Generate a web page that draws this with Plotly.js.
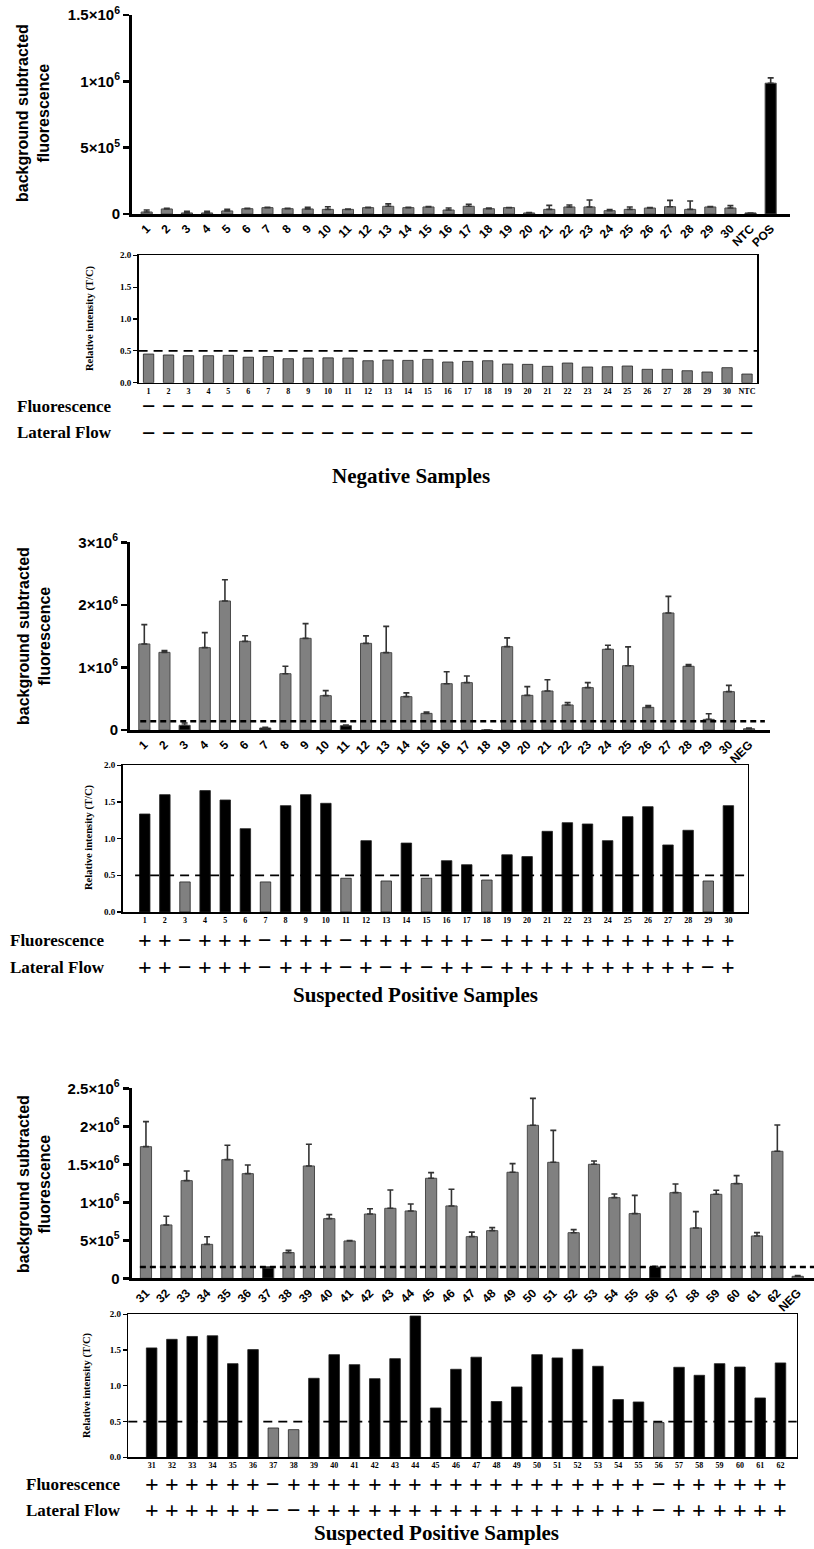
<!DOCTYPE html>
<html><head><meta charset="utf-8">
<script src="https://cdn.plot.ly/plotly-3.0.1.min.js"></script>
<style>html,body{margin:0;padding:0;background:#fff}#chart{width:814px;height:1549px}</style>
</head><body><div id="chart"></div>
<script>
// ---------------- DATA ----------------
const negLabels = ['1','2','3','4','5','6','7','8','9','10','11','12','13','14','15','16','17','18','19','20','21','22','23','24','25','26','27','28','29','30','NTC','POS'];
const negFluor = [15000,38000,8000,8000,23000,40000,48000,40000,38000,35000,35000,48000,58000,48000,53000,30000,58000,40000,48000,8000,35000,53000,53000,25000,35000,45000,55000,35000,53000,45000,8000,986000];
const negFluorErr = [15000,5000,12000,12000,12000,3000,3000,3000,12000,20000,3000,3000,18000,3000,3000,15000,15000,5000,0,3000,30000,15000,53000,8000,18000,3000,48000,63000,3000,18000,0,40000];

const negRelLabels = ['1','2','3','4','5','6','7','8','9','10','11','12','13','14','15','16','17','18','19','20','21','22','23','24','25','26','27','28','29','30','NTC'];
const negRel = [0.45,0.435,0.424,0.424,0.43,0.40,0.41,0.377,0.387,0.39,0.387,0.345,0.356,0.35,0.366,0.325,0.335,0.345,0.293,0.288,0.257,0.309,0.246,0.251,0.262,0.21,0.21,0.188,0.168,0.236,0.136];
const negFluorCall = ['−','−','−','−','−','−','−','−','−','−','−','−','−','−','−','−','−','−','−','−','−','−','−','−','−','−','−','−','−','−','−'];
const negLFCall    = ['−','−','−','−','−','−','−','−','−','−','−','−','−','−','−','−','−','−','−','−','−','−','−','−','−','−','−','−','−','−','−'];

const susALabels = ['1','2','3','4','5','6','7','8','9','10','11','12','13','14','15','16','17','18','19','20','21','22','23','24','25','26','27','28','29','30','NEG'];
const susAFluor = [1375000,1241000,75000,1316000,2062000,1417000,32000,900000,1465000,549000,69000,1385000,1236000,533000,266000,740000,757000,0,1332000,554000,623000,400000,677000,1290000,1028000,362000,1870000,1018000,170000,613000,20000];
const susAErr = [310000,27000,37000,240000,340000,90000,10000,120000,235000,80000,10000,120000,420000,60000,20000,190000,106000,0,140000,140000,180000,37000,80000,64000,300000,27000,266000,27000,90000,100000,10000];
const susACutoff = 140000;

const susARelLabels = ['1','2','3','4','5','6','7','8','9','10','11','12','13','14','15','16','17','18','19','20','21','22','23','24','25','26','27','28','29','30'];
const susARel = [1.336,1.60,0.41,1.655,1.527,1.136,0.41,1.45,1.60,1.482,0.46,0.973,0.423,0.94,0.46,0.70,0.645,0.436,0.78,0.755,1.10,1.218,1.20,0.973,1.30,1.436,0.914,1.114,0.423,1.45];
const susAFluorCall = ['+','+','−','+','+','+','−','+','+','+','−','+','+','+','+','+','+','−','+','+','+','+','+','+','+','+','+','+','+','+'];
const susALFCall    = ['+','+','−','+','+','+','−','+','+','+','−','+','−','+','−','+','+','−','+','+','+','+','+','+','+','+','+','+','−','+'];

const susBLabels = ['31','32','33','34','35','36','37','38','39','40','41','42','43','44','45','46','47','48','49','50','51','52','53','54','55','56','57','58','59','60','61','62','NEG'];
const susBFluor = [1732000,702000,1285000,447000,1561000,1377000,136000,338000,1478000,785000,491000,846000,921000,886000,1316000,952000,548000,627000,1395000,2013000,1526000,600000,1500000,1061000,851000,149000,1127000,662000,1105000,1246000,557000,1671000,26000];
const susBErr = [330000,114000,127000,100000,190000,114000,13000,30000,285000,53000,5000,70000,240000,92000,75000,220000,60000,40000,114000,355000,420000,40000,44000,48000,240000,10000,114000,215000,53000,105000,44000,347000,10000];
const susBCutoff = 150000;

const susBRelLabels = ['31','32','33','34','35','36','37','38','39','40','41','42','43','44','45','46','47','48','49','50','51','52','53','54','55','56','57','58','59','60','61','62'];
const susBRel = [1.53,1.65,1.69,1.70,1.31,1.506,0.41,0.387,1.105,1.436,1.296,1.10,1.38,1.976,0.69,1.231,1.40,0.78,0.984,1.436,1.39,1.51,1.273,0.807,0.774,0.485,1.259,1.147,1.31,1.263,0.83,1.32];
const susBFluorCall = ['+','+','+','+','+','+','−','+','+','+','+','+','+','+','+','+','+','+','+','+','+','+','+','+','+','−','+','+','+','+','+','+'];
const susBLFCall    = ['+','+','+','+','+','+','−','−','+','+','+','+','+','+','+','+','+','+','+','+','+','+','+','+','+','−','+','+','+','+','+','+'];

const relCutoff = 0.5;

// ---------------- LAYOUT HELPERS ----------------
const W = 814, H = 1549;
const xd = (a, b) => [a / W, Math.min(1, b / W)];
const yd = (top, bot) => [1 - bot / H, 1 - top / H];
const px = v => v / W;
const py = v => 1 - v / H;

const GRAY = '#808080', EDGE = '#4a4a4a';
const SERIF = 'Liberation Serif, Times New Roman, serif';
const SANS = 'Liberation Sans, Arial, sans-serif';

function fluorTrace(labels, vals, errs, ax, colorFn) {
  return {
    type: 'bar', x: labels, y: vals, xaxis: 'x' + ax, yaxis: 'y' + ax, width: 0.55,
    marker: { color: labels.map((l, i) => colorFn(l, vals[i])), line: { color: EDGE, width: 1 } },
    error_y: { type: 'data', array: errs, arrayminus: errs.map(() => 0), symmetric: false,
               color: '#333', thickness: 1.6, width: 3 },
    showlegend: false
  };
}
function relTrace(labels, vals, ax, colorFn) {
  return {
    type: 'bar', x: labels, y: vals, xaxis: 'x' + ax, yaxis: 'y' + ax, width: 0.52,
    marker: { color: vals.map(colorFn), line: { color: '#222', width: 0.8 } },
    showlegend: false
  };
}

const data = [
  fluorTrace(negLabels, negFluor, negFluorErr, '', (l) => (l === 'NTC' || l === 'POS') ? '#000' : GRAY),
  relTrace(negRelLabels, negRel, '2', () => GRAY),
  fluorTrace(susALabels, susAFluor, susAErr, '3', (l, v) => (l !== 'NEG' && v < susACutoff) ? '#000' : GRAY),
  relTrace(susARelLabels, susARel, '4', v => v < relCutoff ? GRAY : '#000'),
  fluorTrace(susBLabels, susBFluor, susBErr, '5', (l, v) => (l !== 'NEG' && v < susBCutoff) ? '#000' : GRAY),
  relTrace(susBRelLabels, susBRel, '6', v => v < relCutoff ? GRAY : '#000'),
];

function fluorX(dom, range, labels, anchor) {
  return { domain: dom, range: range, anchor: anchor, type: 'category', showline: true, linewidth: 3, linecolor: '#000',
           ticks: '', tickangle: -45, tickfont: { family: SANS, size: 12, weight: 'bold', color: '#000' },
           tickmode: 'array', tickvals: labels, ticktext: labels, showgrid: false, zeroline: false, fixedrange: true };
}
function fluorY(dom, range, vals, texts, anchor) {
  return { domain: dom, range: range, anchor: anchor, showline: true, linewidth: 3, linecolor: '#000',
           ticks: 'outside', ticklen: 6, tickwidth: 2.5, tickcolor: '#000',
           tickmode: 'array', tickvals: vals, ticktext: texts,
           tickfont: { family: SANS, size: 15, weight: 'bold', color: '#000' },
           showgrid: false, zeroline: false, fixedrange: true };
}
function relX(dom, range, labels, anchor) {
  return { domain: dom, range: range, anchor: anchor, type: 'category', showline: true, mirror: true, linewidth: 1.5, linecolor: '#000',
           ticks: '', tickangle: 0, tickfont: { family: SERIF, size: 8, weight: 'bold', color: '#000' },
           tickmode: 'array', tickvals: labels, ticktext: labels, showgrid: false, zeroline: false, fixedrange: true };
}
function relY(dom, anchor) {
  return { domain: dom, range: [0, 2], anchor: anchor, showline: true, mirror: true, linewidth: 1.5, linecolor: '#000',
           ticks: 'outside', ticklen: 4, tickwidth: 1.2, tickcolor: '#000',
           tickmode: 'array', tickvals: [0, 0.5, 1, 1.5, 2], ticktext: ['0.0', '0.5', '1.0', '1.5', '2.0'],
           tickfont: { family: SERIF, size: 9, weight: 'bold', color: '#000' },
           showgrid: false, zeroline: false, fixedrange: true };
}

const annotations = [];
function yTitle(text, x, y, font) {
  annotations.push({ text: text, xref: 'paper', yref: 'paper', x: px(x), y: py(y), textangle: -90,
                     xanchor: 'center', yanchor: 'middle', showarrow: false, font: font });
}
function rows(labels, fl, lf, ax, yF, yL, xLab) {
  annotations.push({ text: '<b>Fluorescence</b>', xref: 'paper', yref: 'paper', x: px(xLab), y: py(yF), xanchor: 'left', yanchor: 'middle',
                     showarrow: false, font: { family: SERIF, size: 17, color: '#000' } });
  annotations.push({ text: '<b>Lateral Flow</b>', xref: 'paper', yref: 'paper', x: px(xLab), y: py(yL), xanchor: 'left', yanchor: 'middle',
                     showarrow: false, font: { family: SERIF, size: 17, color: '#000' } });
  // one symbol per category, placed at the category's index on that panel's x axis
  labels.forEach((l, i) => {
    annotations.push({ text: '<b>' + fl[i] + '</b>', xref: 'x' + ax, yref: 'paper', x: i, y: py(yF), xanchor: 'center', yanchor: 'middle',
                       showarrow: false, font: { family: SERIF, size: 24, color: '#000' } });
    annotations.push({ text: '<b>' + lf[i] + '</b>', xref: 'x' + ax, yref: 'paper', x: i, y: py(yL), xanchor: 'center', yanchor: 'middle',
                       showarrow: false, font: { family: SERIF, size: 24, color: '#000' } });
  });
}
function title(text, x, y) {
  annotations.push({ text: '<b>' + text + '</b>', xref: 'paper', yref: 'paper', x: px(x), y: py(y), xanchor: 'center', yanchor: 'middle',
                     showarrow: false, font: { family: SERIF, size: 21, color: '#000' } });
}

const fTitleFont = { family: SANS, size: 16, weight: 'bold', color: '#000' };
const rTitleFont = { family: SERIF, size: 10.5, weight: 'bold', color: '#000' };
yTitle('background subtracted<br>fluorescence', 33, 113, fTitleFont);
yTitle('background subtracted<br>fluorescence', 34, 636, fTitleFont);
yTitle('background subtracted<br>fluorescence', 34, 1184, fTitleFont);
yTitle('Relative intensity (T/C)', 90, 319, rTitleFont);
yTitle('Relative intensity (T/C)', 89, 838, rTitleFont);
yTitle('Relative intensity (T/C)', 87, 1386, rTitleFont);

rows(negRelLabels, negFluorCall, negLFCall, '2', 406, 433, 15);
rows(susARelLabels, susAFluorCall, susALFCall, '4', 940, 967, 8);
rows(susBRelLabels, susBFluorCall, susBLFCall, '6', 1484, 1510, 24);
title('Negative Samples', 411, 476);
title('Suspected Positive Samples', 415, 995);
title('Suspected Positive Samples', 436, 1533);

function hline(ax, yv, x0, x1, dash, w) {
  return { type: 'line', xref: 'x' + ax + ' domain', yref: 'y' + ax, x0: x0, x1: x1, y0: yv, y1: yv,
           line: { color: '#000', width: w, dash: dash }, layer: 'above' };
}
const shapes = [
  hline('2', relCutoff, 0, 1, '9px,6px', 1.8),
  hline('3', susACutoff, 0.016, 0.992, '6px,4px', 2.5),
  hline('4', relCutoff, 0.02, 1, '9px,6px', 1.8),
  hline('5', susBCutoff, 0.012, 1, '6px,4px', 2.5),
  hline('6', relCutoff, 0.0, 1, '9px,6px', 1.8),
];

const layout = {
  width: W, height: H, margin: { l: 0, r: 0, t: 0, b: 0 }, paper_bgcolor: '#fff', plot_bgcolor: 'rgba(0,0,0,0)',
  showlegend: false, barmode: 'group',
  xaxis:  fluorX(xd(132, 790), [-0.73, 31.96], negLabels, 'y'),
  yaxis:  fluorY(yd(15, 214), [0, 1500000], [0, 500000, 1000000, 1500000], ['0', '5×10<sup>5</sup>', '1×10<sup>6</sup>', '1.5×10<sup>6</sup>'], 'x'),
  xaxis2: relX(xd(138.6, 757), [-0.5, 30.5], negRelLabels, 'y2'),
  yaxis2: relY(yd(255.3, 382.7), 'x2'),
  xaxis3: fluorX(xd(130, 770), [-0.71, 31.04], susALabels, 'y3'),
  yaxis3: fluorY(yd(542.3, 730), [0, 3000000], [0, 1000000, 2000000, 3000000], ['0', '1×10<sup>6</sup>', '2×10<sup>6</sup>', '3×10<sup>6</sup>'], 'x3'),
  xaxis4: relX(xd(122.6, 747.5), [-1.1, 29.95], susARelLabels, 'y4'),
  yaxis4: relY(yd(765.3, 912), 'x4'),
  xaxis5: fluorX(xd(131.7, 814), [-0.7, 32.8], susBLabels, 'y5'),
  yaxis5: fluorY(yd(1088.3, 1278.3), [0, 2500000], [0, 500000, 1000000, 1500000, 2000000, 2500000], ['0', '5×10<sup>5</sup>', '1×10<sup>6</sup>', '1.5×10<sup>6</sup>', '2×10<sup>6</sup>', '2.5×10<sup>6</sup>'], 'x5'),
  xaxis6: relX(xd(128.3, 796.7), [-1.15, 31.8], susBRelLabels, 'y6'),
  yaxis6: relY(yd(1314.3, 1457.3), 'x6'),
  annotations: annotations, shapes: shapes
};

Plotly.newPlot('chart', data, layout, { staticPlot: true, displayModeBar: false });
</script></body></html>
